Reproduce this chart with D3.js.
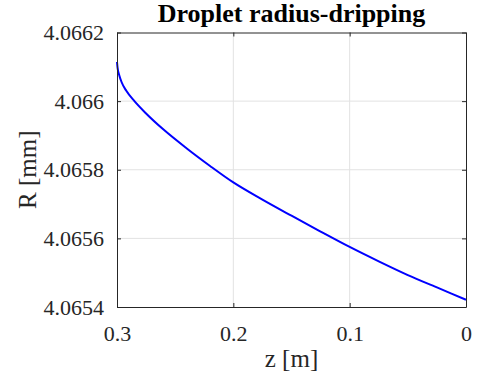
<!DOCTYPE html>
<html>
<head>
<meta charset="utf-8">
<script src="https://cdn.jsdelivr.net/npm/d3@7/dist/d3.min.js"></script>
<style>
  html, body {
    margin: 0;
    padding: 0;
    background: #fff;
  }

  .grid line {
    stroke: #e2e2e2;
    stroke-width: 1px;
  }

  .line {
    fill: none;
    stroke: #0000ff;
    stroke-width: 2px;
  }
</style>
</head>
<body>
<script>
  // 轴位置 z [m] 与液滴半径 R [mm]
  let zValues = [0, 0.025, 0.05, 0.075, 0.1, 0.125, 0.15, 0.175, 0.2, 0.22, 0.24,
    0.26, 0.275, 0.285, 0.292, 0.296, 0.298, 0.2995, 0.3];
  let rValues = [4.065421, 4.065457, 4.065493, 4.065533, 4.065575, 4.065620, 4.065666,
    4.065713, 4.065763, 4.065811, 4.065862, 4.065917, 4.065964, 4.066000, 4.066030,
    4.066055, 4.066075, 4.066097, 4.066114];

  let xTicks = [0.3, 0.2, 0.1, 0];
  let xTickLabels = ['0.3', '0.2', '0.1', '0'];
  let yTicks = [4.0654, 4.0656, 4.0658, 4.066, 4.0662];
  let yTickLabels = ['4.0654', '4.0656', '4.0658', '4.066', '4.0662'];

  let title = 'Droplet radius-dripping';
  let xLabel = 'z [m]';
  let yLabel = 'R [mm]';

  let data = zValues.map(function(z, i) {
    return {q: z, p: rValues[i]};
  });

  let font = '"Liberation Serif", "Times New Roman", serif';
  let margin = {top: 32.5, right: 12, bottom: 76, left: 117};
  let windowWidth = 478;
  let windowHeight = 383;
  let width = windowWidth - margin.left - margin.right;
  let height = windowHeight - margin.top - margin.bottom;
  let tickLen = 4;
  let axisColor = '#262626';

  // x轴反向：0.3 在左，0 在右
  let scaleX = d3.scaleLinear()
    .domain([0.3, 0])
    .range([0, width]);

  let scaleY = d3.scaleLinear()
    .domain([4.0654, 4.0662])
    .range([height, 0]);

  let line = d3.line()
    .x(function(d) { return scaleX(d.q); })
    .y(function(d) { return scaleY(d.p); })
    .curve(d3.curveMonotoneX);

  let svg = d3.select('body').append('svg')
    .attr('width', windowWidth)
    .attr('height', windowHeight)
    .style('font-family', font);

  let mainGroup = svg.append('g')
    .attr('transform', 'translate(' + margin.left + ',' + margin.top + ')');

  // 网格
  let grid = mainGroup.append('g').attr('class', 'grid');
  grid.selectAll('.gx')
    .data(xTicks.slice(1, -1))
    .enter().append('line')
    .attr('x1', function(d) { return scaleX(d); })
    .attr('x2', function(d) { return scaleX(d); })
    .attr('y1', 0)
    .attr('y2', height);
  grid.selectAll('.gy')
    .data(yTicks.slice(1, -1))
    .enter().append('line')
    .attr('x1', 0)
    .attr('x2', width)
    .attr('y1', function(d) { return scaleY(d); })
    .attr('y2', function(d) { return scaleY(d); });

  mainGroup.append('path')
    .datum(data)
    .attr('class', 'line')
    .attr('d', line);

  // 坐标轴（刻度朝内）
  function styleAxis(g) {
    g.selectAll('.domain').attr('stroke', axisColor).attr('stroke-width', 1);
    g.selectAll('.tick line').attr('stroke', axisColor);
    g.selectAll('.tick text')
      .attr('fill', axisColor)
      .style('font-family', font)
      .style('font-size', '22px');
  }

  let xAxis = d3.axisBottom(scaleX)
    .tickValues(xTicks)
    .tickFormat(function(d, i) { return xTickLabels[i]; })
    .tickSizeInner(-tickLen)
    .tickSizeOuter(0)
    .tickPadding(18);

  let yAxis = d3.axisLeft(scaleY)
    .tickValues(yTicks)
    .tickFormat(function(d, i) { return yTickLabels[i]; })
    .tickSizeInner(-tickLen)
    .tickSizeOuter(0)
    .tickPadding(13);

  mainGroup.append('g')
    .attr('transform', 'translate(0,' + height + ')')
    .call(xAxis)
    .call(styleAxis);

  mainGroup.append('g')
    .call(yAxis)
    .call(styleAxis);

  mainGroup.append('g')
    .call(d3.axisTop(scaleX).tickValues(xTicks).tickFormat('')
      .tickSizeInner(-tickLen).tickSizeOuter(0))
    .call(styleAxis);

  mainGroup.append('g')
    .attr('transform', 'translate(' + width + ',0)')
    .call(d3.axisRight(scaleY).tickValues(yTicks).tickFormat('')
      .tickSizeInner(-tickLen).tickSizeOuter(0))
    .call(styleAxis);

  // 标题与轴标签
  svg.append('text')
    .attr('x', margin.left + width / 2)
    .attr('y', 22)
    .attr('text-anchor', 'middle')
    .style('font-size', '26px')
    .attr('font-weight', 'bold')
    .attr('fill', '#000')
    .text(title);

  svg.append('text')
    .attr('x', margin.left + width / 2)
    .attr('y', 367)
    .attr('text-anchor', 'middle')
    .style('font-size', '25px')
    .attr('fill', axisColor)
    .text(xLabel);

  svg.append('text')
    .attr('transform', 'translate(36,' + (margin.top + height / 2) + ') rotate(-90)')
    .attr('text-anchor', 'middle')
    .style('font-size', '25px')
    .attr('fill', axisColor)
    .text(yLabel);
</script>
</body>
</html>
